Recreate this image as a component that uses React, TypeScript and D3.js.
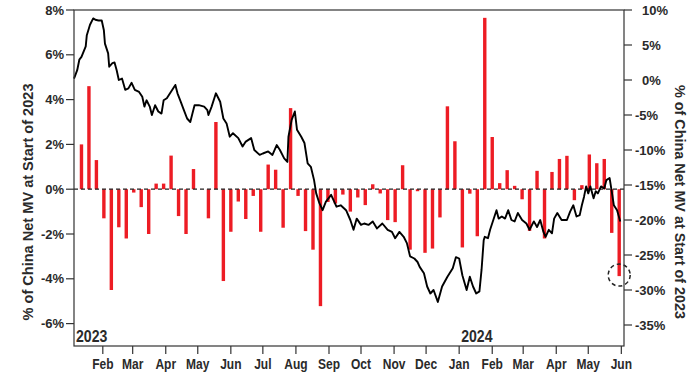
import React from "react";
import * as d3 from "d3";

// Weekly flows (% of China Net MV at start of 2023), left axis; one bar per week starting 2023-01-12
const barStart = "2023-01-12";
const barValues: number[] = [
  2.0, 4.6, 1.3, -1.3, -4.5, -1.7, -2.2, -0.15, -0.8, -2.0,
  0.25, 0.25, 1.5, -1.2, -2.0, 0.9, 0, -1.3, 3.0, -4.1,
  -1.9, -0.55, -1.33, -0.3, -1.9, 1.1, 0.87, -1.72, 3.62, -0.3,
  -1.87, -2.7, -5.22, -0.57, -0.64, -0.24, -1.0, -0.37, -0.71, 0.22,
  -0.19, -1.38, -1.47, 1.07, -2.7, -0.09, -2.84, -2.65, -1.26, 3.7,
  2.14, -2.6, -0.2, -2.1, 7.65, 2.33, 0.27, 0.85, 0.15, -0.45,
  -1.86, 0.82, -2.2, 0.77, 1.35, 1.49, -0.49, 0.18, 1.55, 1.16,
  1.35, -1.95, -3.88,
];

// Cumulative flows (right axis)
const lineData: [string, number][] = [
  ["2023-01-05", 0.2], ["2023-01-08", 1.4], ["2023-01-10", 2.9], ["2023-01-12", 3.3],
  ["2023-01-16", 4.8], ["2023-01-17", 6.4], ["2023-01-20", 7.9], ["2023-01-23", 8.8],
  ["2023-01-25", 8.6], ["2023-01-28", 8.5], ["2023-01-31", 8.5], ["2023-02-02", 7.1],
  ["2023-02-03", 5.2], ["2023-02-06", 3.8], ["2023-02-07", 1.9], ["2023-02-10", 2.4],
  ["2023-02-12", 2.5], ["2023-02-14", 1.4], ["2023-02-16", 0.0], ["2023-02-19", 0.2],
  ["2023-02-22", -1.4], ["2023-02-25", -1.2], ["2023-02-28", -0.4], ["2023-03-03", -1.4],
  ["2023-03-07", -1.7], ["2023-03-10", -2.4], ["2023-03-12", -3.8], ["2023-03-14", -2.9],
  ["2023-03-17", -3.8], ["2023-03-19", -5.0], ["2023-03-22", -3.6], ["2023-03-25", -4.5],
  ["2023-03-28", -4.8], ["2023-03-30", -2.9], ["2023-04-02", -2.6], ["2023-04-05", -1.9],
  ["2023-04-10", -0.7], ["2023-04-12", -1.9], ["2023-04-15", -3.1], ["2023-04-18", -4.3],
  ["2023-04-21", -5.5], ["2023-04-24", -6.0], ["2023-04-26", -4.8], ["2023-04-28", -3.6],
  ["2023-05-02", -3.6], ["2023-05-07", -3.8], ["2023-05-10", -4.3], ["2023-05-11", -5.0],
  ["2023-05-14", -3.8], ["2023-05-18", -1.9], ["2023-05-22", -3.1], ["2023-05-25", -5.5],
  ["2023-05-28", -6.2], ["2023-05-31", -8.1], ["2023-06-03", -7.6], ["2023-06-08", -8.3],
  ["2023-06-12", -9.5], ["2023-06-15", -8.8], ["2023-06-20", -8.3], ["2023-06-23", -10.0],
  ["2023-06-28", -10.7], ["2023-07-01", -10.5], ["2023-07-06", -10.2], ["2023-07-10", -10.7],
  ["2023-07-14", -9.3], ["2023-07-17", -10.0], ["2023-07-21", -11.2], ["2023-07-24", -11.7],
  ["2023-07-25", -8.1], ["2023-07-28", -5.7], ["2023-07-31", -4.5], ["2023-08-02", -7.1],
  ["2023-08-06", -8.1], ["2023-08-09", -9.0], ["2023-08-12", -11.9], ["2023-08-15", -12.4],
  ["2023-08-18", -14.3], ["2023-08-20", -16.2], ["2023-08-23", -17.6], ["2023-08-26", -18.6],
  ["2023-08-29", -17.4], ["2023-09-03", -16.4], ["2023-09-08", -18.1], ["2023-09-12", -17.9],
  ["2023-09-17", -18.6], ["2023-09-21", -20.0], ["2023-09-24", -21.4], ["2023-09-27", -19.8],
  ["2023-10-01", -20.7], ["2023-10-04", -20.5], ["2023-10-08", -20.7], ["2023-10-12", -20.2],
  ["2023-10-16", -21.2], ["2023-10-21", -20.5], ["2023-10-26", -21.4], ["2023-10-30", -21.7],
  ["2023-11-02", -22.6], ["2023-11-06", -21.7], ["2023-11-10", -22.4], ["2023-11-13", -23.3],
  ["2023-11-16", -25.2], ["2023-11-20", -25.5], ["2023-11-23", -26.0], ["2023-11-25", -26.7],
  ["2023-11-29", -27.6], ["2023-12-02", -29.5], ["2023-12-05", -30.5], ["2023-12-08", -30.0],
  ["2023-12-12", -31.7], ["2023-12-16", -29.5], ["2023-12-21", -28.1], ["2023-12-26", -26.9],
  ["2023-12-29", -25.3], ["2024-01-01", -25.5], ["2024-01-04", -27.9], ["2024-01-08", -30.0],
  ["2024-01-11", -28.1], ["2024-01-14", -29.5], ["2024-01-17", -30.5], ["2024-01-20", -30.2],
  ["2024-01-22", -27.1], ["2024-01-24", -22.9], ["2024-01-25", -22.4], ["2024-01-28", -22.6],
  ["2024-01-30", -21.4], ["2024-02-02", -20.0], ["2024-02-05", -18.6], ["2024-02-07", -19.8],
  ["2024-02-10", -19.5], ["2024-02-13", -19.8], ["2024-02-16", -18.6], ["2024-02-19", -20.0],
  ["2024-02-22", -20.2], ["2024-02-25", -19.0], ["2024-02-29", -20.0], ["2024-03-04", -20.5],
  ["2024-03-07", -21.4], ["2024-03-11", -20.2], ["2024-03-14", -21.0], ["2024-03-17", -20.0],
  ["2024-03-20", -21.7], ["2024-03-22", -22.4], ["2024-03-25", -21.4], ["2024-03-28", -21.9],
  ["2024-03-30", -19.8], ["2024-04-02", -19.0], ["2024-04-06", -20.0], ["2024-04-11", -20.0],
  ["2024-04-14", -18.8], ["2024-04-17", -17.9], ["2024-04-20", -19.5], ["2024-04-23", -19.3],
  ["2024-04-25", -17.9], ["2024-04-27", -16.7], ["2024-04-29", -15.2], ["2024-05-01", -16.2],
  ["2024-05-03", -15.2], ["2024-05-06", -16.9], ["2024-05-08", -15.9], ["2024-05-10", -16.2],
  ["2024-05-13", -15.2], ["2024-05-16", -15.5], ["2024-05-18", -14.3], ["2024-05-21", -14.0],
  ["2024-05-23", -15.9], ["2024-05-25", -17.9], ["2024-05-28", -18.6], ["2024-05-31", -20.2],
];

const leftTicks = [-6, -4, -2, 0, 2, 4, 6, 8];
const rightTicks = [-35, -30, -25, -20, -15, -10, -5, 0, 5, 10];
const monthNames = ["Jan", "Feb", "Mar", "Apr", "May", "Jun", "Jul", "Aug", "Sep", "Oct", "Nov", "Dec"];
const yearLabels: [string, string][] = [["2023-01-05", "2023"], ["2024-01-01", "2024"]];
const axisTitle = "% of China Net MV at Start of 2023";
const highlightWeek = 72;

const W = 700, H = 375;
const L = 74, R = 624, T = 10, B = 346;
const FONT = "'Liberation Sans', Arial, sans-serif";
const TXT = "#2a2a2a";
const AX = "#333";
const RED = "#ed1c24";

export default function App() {
  const parse = d3.timeParse("%Y-%m-%d");
  const x = d3.scaleTime()
    .domain([new Date(2023, 0, 5), new Date(2024, 5, 3, 12)])
    .range([L, R]);
  const yL = d3.scaleLinear().domain([-7, 8]).range([B, T]);
  const yR = d3.scaleLinear().domain([-38, 10]).range([B, T]);

  const start = parse(barStart)!;
  const bars = barValues.map((v, i) => ({ date: d3.timeDay.offset(start, 7 * i), v }));
  const pts = lineData.map(([d, v]) => ({ date: parse(d)!, v }));
  const line = d3.line<{ date: Date; v: number }>()
    .x((d) => x(d.date))
    .y((d) => yR(d.v));

  const months = d3.timeMonth.range(new Date(2023, 1, 1), new Date(2024, 5, 2));
  const bw = 3.4;
  const hb = bars[highlightWeek];

  return (
    <svg width={W} height={H} style={{ display: "block", position: "absolute", left: 0, top: 0 }}
      fontFamily={FONT}>
      <rect width={W} height={H} fill="#fff" />
      {/* bars */}
      {bars.map((b, i) => (
        <rect key={i} x={x(b.date) - bw / 2} width={bw}
          y={Math.min(yL(b.v), yL(0))} height={Math.abs(yL(b.v) - yL(0))} fill={RED} />
      ))}
      {/* zero line */}
      <line x1={L} x2={R} y1={yL(0)} y2={yL(0)} stroke="#222" strokeWidth={1.2} strokeDasharray="4,3" />
      {/* cumulative line */}
      <path d={line(pts)!} fill="none" stroke="#000" strokeWidth={1.9} strokeLinejoin="round" />
      {/* highlight circle */}
      <circle cx={x(hb.date)} cy={yL(hb.v) - 1} r={11} fill="none" stroke="#222" strokeWidth={1.5} strokeDasharray="4,3" />
      {/* frame */}
      <rect x={L} y={T} width={R - L} height={B - T} fill="none" stroke={AX} strokeWidth={1.2} />
      {/* left axis */}
      {leftTicks.map((t) => (
        <g key={t}>
          <line x1={L - 8} x2={L} y1={yL(t)} y2={yL(t)} stroke={AX} strokeWidth={1.2} />
          <text x={L - 10} y={yL(t)} dy="0.35em" textAnchor="end" fontSize={13} fontWeight="bold" fill={TXT}>{`${t}%`}</text>
        </g>
      ))}
      {/* right axis */}
      {rightTicks.map((t) => (
        <g key={t}>
          <line x1={R} x2={R + 8} y1={yR(t)} y2={yR(t)} stroke={AX} strokeWidth={1.2} />
          <text x={t < 0 ? R + 11 : R + 18} y={yR(t)} dy="0.35em" textAnchor="start" fontSize={13} fontWeight="bold" fill={TXT}>{`${t}%`}</text>
        </g>
      ))}
      {/* bottom axis */}
      {months.map((m, i) => (
        <g key={i}>
          <line x1={x(m)} x2={x(m)} y1={B} y2={B + 8} stroke={AX} strokeWidth={1.2} />
          <g transform={`translate(${x(m)},369) scale(0.8,1)`}>
            <text x={0} y={0} textAnchor="middle" fontSize={15} fontWeight="bold" fill={TXT}>{monthNames[m.getMonth()]}</text>
          </g>
        </g>
      ))}
      {yearLabels.map(([d, s]) => (
        <g key={s} transform={`translate(${x(parse(d)!) + 2},342) scale(0.88,1)`}>
          <text x={0} y={0} fontSize={16} fontWeight="bold" fill={TXT}>{s}</text>
        </g>
      ))}
      {/* axis titles */}
      <text transform={`translate(33,${(T + B) / 2 + 24}) rotate(-90)`} textAnchor="middle" fontSize={15} fontWeight="bold" fill={TXT}
        textLength={237} lengthAdjust="spacingAndGlyphs">{axisTitle}</text>
      <text transform={`translate(675,${(T + B) / 2 + 24}) rotate(90)`} textAnchor="middle" fontSize={15} fontWeight="bold" fill={TXT}
        textLength={234} lengthAdjust="spacingAndGlyphs">{axisTitle}</text>
    </svg>
  );
}
